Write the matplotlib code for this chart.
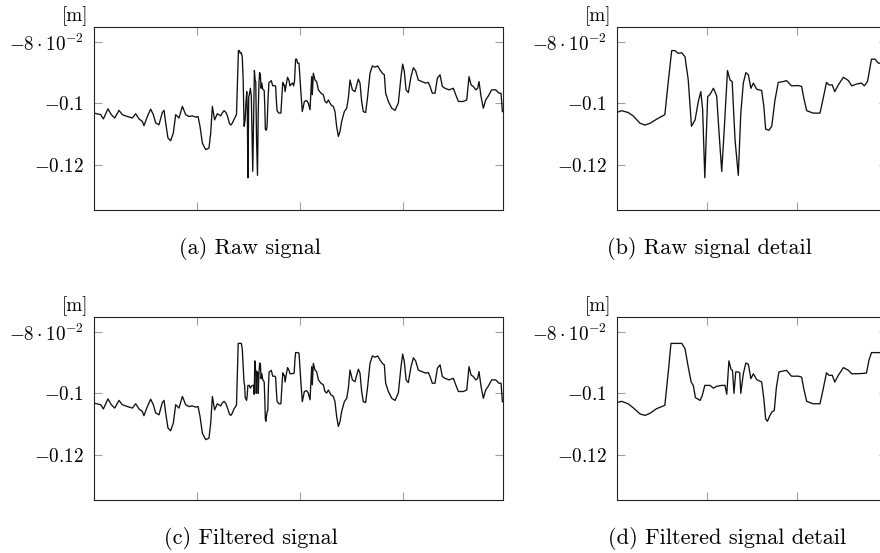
import matplotlib
matplotlib.use("Agg")
from matplotlib import pyplot as plt

plt.rcParams['font.family'] = 'serif'
plt.rcParams['font.serif'] = ['cmr10', 'DejaVu Serif']
plt.rcParams['mathtext.fontset'] = 'cm'
plt.rcParams['axes.unicode_minus'] = False

# signal before the detail window (same in raw and filtered)
pre_x = [0, 6.5, 9.1, 13.6, 16.8, 20.1, 24.3, 27.5, 32.4, 37.2, 40.5, 43.7, 46.9, 48.5,
         51.8, 55.0, 57.6, 59.9, 63.1, 66.3, 68.0, 69.6, 71.8, 74.4, 77.0, 79.3, 82.5,
         85.8, 89.0, 92.2, 95.5, 98.7, 101.0, 102.9, 105.2, 108.4, 111.6, 113.3, 114.9,
         117.1, 119.7, 123.0]
pre_y = [-0.1032, -0.1037, -0.1051, -0.1018, -0.1037, -0.1048, -0.1023, -0.1037, -0.1043,
         -0.1048, -0.1034, -0.1051, -0.1059, -0.1073, -0.1043, -0.1019, -0.1037, -0.1064,
         -0.1070, -0.1030, -0.1023, -0.1064, -0.1113, -0.1122, -0.1097, -0.1037, -0.1048,
         -0.1010, -0.1037, -0.1043, -0.1041, -0.1045, -0.1043, -0.1075, -0.1130, -0.1151,
         -0.1146, -0.1097, -0.1010, -0.1054, -0.1034, -0.1041]

# detail window, raw signal
raw_mid_x = [124.4, 126.3, 128.1, 129.5, 131.4, 132.8, 134.2, 136.0, 138.3, 139.3, 140.2,
             141.1, 142.0, 143.0, 143.9, 144.8, 145.7, 146.7, 147.6, 148.3, 148.8, 149.4,
             150.2, 150.8, 151.8, 152.7, 153.3, 154.1, 154.8, 155.7, 156.4, 157.0, 157.8,
             158.7, 159.4, 160.1, 160.8, 161.5, 162.2, 162.9, 163.8, 165.2, 165.8, 166.3,
             167.2, 168.0, 168.9, 169.8, 171.2, 172.1, 173.5, 175.4, 176.3, 176.9, 177.7,
             179.5, 181.4, 182.3, 183.2, 183.9, 184.8, 185.5, 186.5, 187.9, 189.3, 190.2,
             191.6, 192.9, 193.7, 194.6, 195.7, 196.7, 197.6]
raw_mid_y = [-0.1032, -0.1024, -0.1030, -0.1041, -0.1065, -0.1071, -0.1065, -0.1052, -0.1037,
             -0.0924, -0.0828, -0.0828, -0.0837, -0.0835, -0.0848, -0.0924, -0.1075, -0.1054,
             -0.0994, -0.0962, -0.1021, -0.1243, -0.0978, -0.0972, -0.0951, -0.0976, -0.1086,
             -0.1222, -0.1086, -0.0893, -0.0924, -0.0929, -0.1119, -0.1235, -0.1032, -0.0934,
             -0.0900, -0.0907, -0.0951, -0.0934, -0.0954, -0.0958, -0.1010, -0.1084, -0.1088,
             -0.1075, -0.0989, -0.0932, -0.0929, -0.0926, -0.0943, -0.0942, -0.0945, -0.0983,
             -0.1024, -0.1032, -0.1032, -0.0983, -0.0932, -0.0940, -0.0940, -0.0962, -0.0940,
             -0.0915, -0.0926, -0.0943, -0.0937, -0.0934, -0.0943, -0.0929, -0.0856, -0.0856,
             -0.0869]

# detail window, filtered signal
filt_mid_x = [124.4, 126.3, 128.1, 129.5, 131.4, 132.8, 134.2, 136.0, 138.3, 139.3, 140.0,
              141.6, 143.0, 143.9, 144.8, 145.6, 146.2, 146.8, 148.1, 148.7, 149.4, 150.8,
              151.8, 152.7, 154.1, 155.0, 155.5, 156.1, 156.7, 157.1, 157.5, 158.0, 158.7,
              159.1, 159.4, 160.1, 160.8, 161.5, 162.2, 162.9, 163.8, 165.2, 165.8, 166.3,
              166.8, 167.5, 168.0, 168.7, 169.3, 170.0, 171.2, 172.1, 173.5, 175.4, 176.3,
              176.9, 177.7, 179.5, 181.4, 182.3, 183.2, 183.9, 184.8, 185.5, 186.5, 187.9,
              189.3, 190.2, 192.0, 194.3, 195.0, 195.7, 197.6]
filt_mid_y = [-0.1032, -0.1026, -0.1034, -0.1047, -0.1067, -0.1072, -0.1065, -0.1050, -0.1039,
              -0.0925, -0.0837, -0.0837, -0.0837, -0.0854, -0.0914, -0.0963, -0.0974, -0.1014,
              -0.1023, -0.1007, -0.0974, -0.0974, -0.0983, -0.0977, -0.0974, -0.0974, -0.1003,
              -0.0894, -0.0922, -0.0925, -0.1000, -0.0930, -0.0930, -0.0933, -0.1000, -0.0936,
              -0.0901, -0.0905, -0.0952, -0.0936, -0.0955, -0.0963, -0.1018, -0.1083, -0.1091,
              -0.1072, -0.1061, -0.1056, -0.0979, -0.0930, -0.0927, -0.0925, -0.0944, -0.0944,
              -0.0947, -0.0985, -0.1026, -0.1034, -0.1034, -0.0985, -0.0933, -0.0941, -0.0941,
              -0.0963, -0.0941, -0.0916, -0.0925, -0.0936, -0.0936, -0.0934, -0.0892, -0.0867,
              -0.0867]

# signal after the detail window (same in raw and filtered)
post_x = [199.0, 200.9, 202.2, 204.2, 206.4, 208.0, 209.7, 211.3, 211.9, 212.9, 214.5, 216.1,
          217.8, 220.3, 222.6, 224.2, 225.8, 227.5, 230.0, 232.3, 233.9, 235.5, 237.2, 238.8,
          240.4, 243.0, 245.3, 246.9, 248.5, 250.8, 253.3, 256.6, 258.2, 259.8, 261.4, 263.7,
          265.6, 267.9, 270.2, 272.8, 275.4, 277.6, 279.9, 281.8, 283.1, 285.7, 289.0, 292.2,
          295.4, 298.0, 299.6, 301.2, 302.9, 305.1, 307.7, 310.0, 312.2, 314.8, 318.1, 322.0,
          324.5, 326.2, 328.4, 331.0, 333.3, 335.9, 338.1, 340.7, 344.6, 348.8, 351.1, 353.7,
          358.5, 361.8, 364.0, 366.0, 368.2, 370.5, 372.4, 373.7, 375.7, 377.9, 380.2, 382.8,
          386.0, 389.9, 393.1, 395.1, 396.4]
post_y = [-0.0869, -0.0967, -0.1027, -0.0994, -0.0991, -0.0999, -0.1021, -0.0913, -0.0972,
          -0.0902, -0.0924, -0.0929, -0.0956, -0.0967, -0.0972, -0.0994, -0.0999, -0.0989,
          -0.1005, -0.1010, -0.1027, -0.1075, -0.1108, -0.1092, -0.1059, -0.1027, -0.1016,
          -0.0983, -0.0924, -0.0956, -0.0962, -0.0921, -0.0934, -0.0994, -0.1027, -0.1030,
          -0.0978, -0.0902, -0.0878, -0.0882, -0.0878, -0.0891, -0.0902, -0.0907, -0.0967,
          -0.0994, -0.1016, -0.1023, -0.0999, -0.0913, -0.0872, -0.0896, -0.0956, -0.0965,
          -0.0913, -0.0884, -0.0894, -0.0924, -0.0929, -0.0934, -0.0932, -0.0945, -0.0967,
          -0.0967, -0.0918, -0.0907, -0.0945, -0.0951, -0.0956, -0.0951, -0.0972, -0.0994,
          -0.0994, -0.0989, -0.0913, -0.0940, -0.0945, -0.0956, -0.0951, -0.0929, -0.0978,
          -0.1016, -0.0989, -0.0976, -0.0956, -0.0956, -0.0967, -0.0967, -0.1027]

raw_x = pre_x + raw_mid_x + post_x
raw_y = pre_y + raw_mid_y + post_y
filt_x = pre_x + filt_mid_x + post_x
filt_y = pre_y + filt_mid_y + post_y

ytick_vals = [-0.08, -0.1, -0.12]
ytick_labels = [r'$-8\cdot10^{-2}$', r'$-0.1$', r'$-0.12$']
captions = ['(a) Raw signal', '(b) Raw signal detail',
            '(c) Filtered signal', '(d) Filtered signal detail']

fig = plt.figure(figsize=(8.8, 5.53), dpi=100)


def draw(rect, x, y, xlim, xticks):
    ax = fig.add_axes(rect)
    ax.plot(x, y, color='#111111', lw=0.95, solid_joinstyle='round')
    ax.set_xlim(xlim)
    ax.set_ylim(-0.1348, -0.0751)
    ax.set_xticks(xticks)
    ax.set_xticklabels([])
    ax.set_yticks(ytick_vals)
    ax.set_yticklabels(ytick_labels)
    ax.tick_params(direction='in', length=6, width=0.8, color='#a0a0a0',
                   top=True, right=True, labelsize=13.8, pad=7.5)
    for s in ax.spines.values():
        s.set_linewidth(0.8)
        s.set_color('#222222')
    ax.annotate('[m]', xy=(0, 1), xycoords='axes fraction', xytext=(-19, 11),
                textcoords='offset pixels', ha='center', va='center', fontsize=13.8)
    return ax


draw([0.1068, 0.6203, 0.4648, 0.3309], raw_x, raw_y, (0, 397), [100, 200, 300])
draw([0.7011, 0.6203, 0.3068, 0.3309], raw_x, raw_y, (125, 200), [150, 175])
draw([0.1068, 0.0958, 0.4648, 0.3309], filt_x, filt_y, (0, 397), [100, 200, 300])
draw([0.7011, 0.0958, 0.3068, 0.3309], filt_x, filt_y, (125, 200), [150, 175])

fig.text(250 / 880, 1 - 249 / 553, captions[0], ha='center', va='center', fontsize=16)
fig.text(709 / 880, 1 - 249 / 553, captions[1], ha='center', va='center', fontsize=16)
fig.text(251 / 880, 1 - 539 / 553, captions[2], ha='center', va='center', fontsize=16)
fig.text(727 / 880, 1 - 539 / 553, captions[3], ha='center', va='center', fontsize=16)

fig.savefig('out.png', dpi=100)
